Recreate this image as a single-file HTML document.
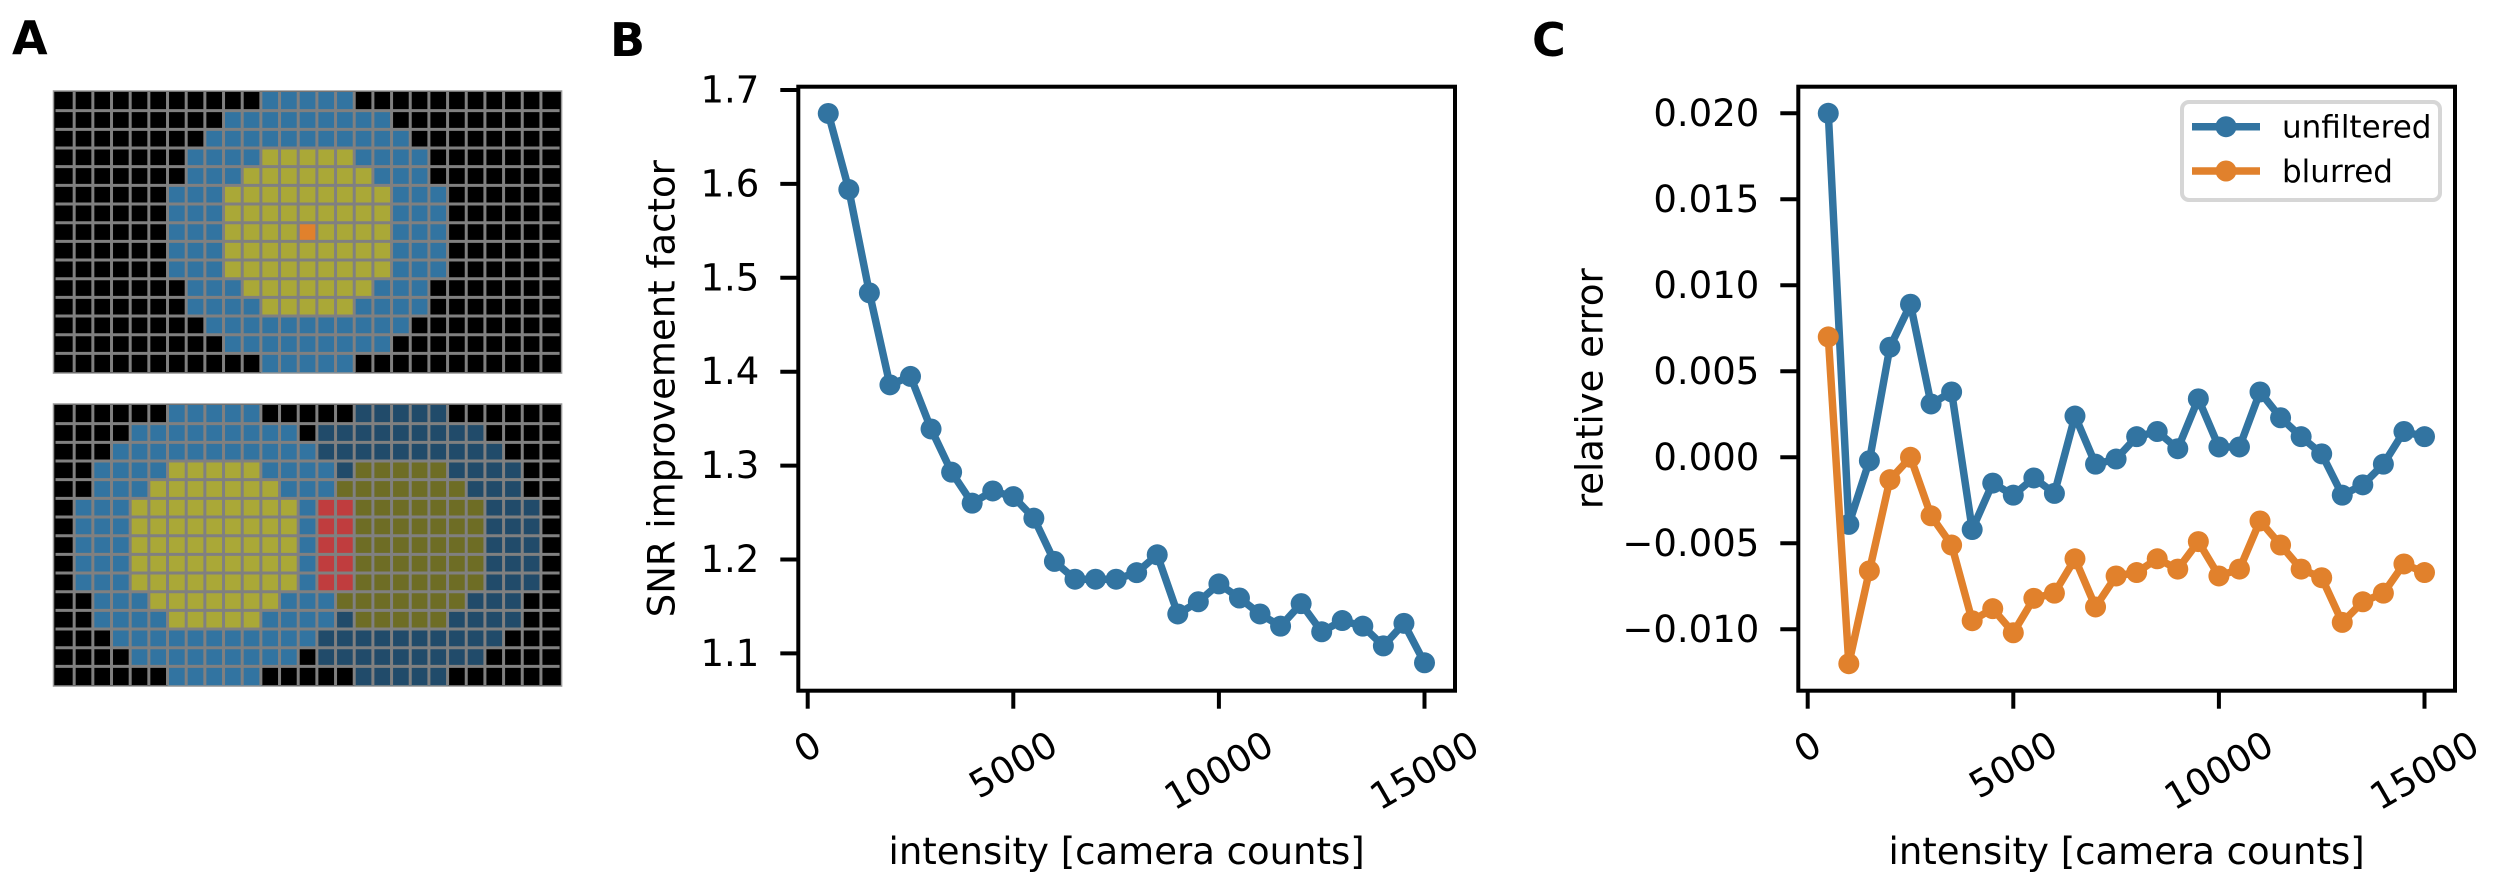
<!DOCTYPE html>
<html><head><meta charset="utf-8"><style>
html,body{margin:0;padding:0;background:#fff;}
svg{display:block;font-family:"DejaVu Sans","Liberation Sans",sans-serif;}
</style></head><body>
<svg id="fig" width="2500" height="888" viewBox="0 0 2500 888" xmlns="http://www.w3.org/2000/svg">
<rect x="0" y="0" width="2500" height="888" fill="#fff"/>
<text x="12" y="54" font-size="46" font-weight="bold">A</text>
<text x="610" y="56" font-size="46" font-weight="bold">B</text>
<text x="1532" y="56" font-size="46" font-weight="bold">C</text>
<g id="gridTop"></g>
<g id="gridBottom"></g>
<g id="chartB"></g>
<g id="chartC"></g>
</svg>
<script>
// ---- chart data ----
const intensities = [500,1000,1500,2000,2500,3000,3500,4000,4500,5000,5500,6000,6500,7000,7500,8000,8500,9000,9500,10000,10500,11000,11500,12000,12500,13000,13500,14000,14500,15000];
const snrValues = [1.675,1.594,1.484,1.386,1.395,1.339,1.293,1.260,1.273,1.267,1.244,1.198,1.179,1.179,1.179,1.186,1.205,1.142,1.155,1.174,1.159,1.142,1.129,1.153,1.123,1.135,1.129,1.108,1.132,1.090];
const unfilteredErr = [0.0200,-0.0039,-0.0002,0.0064,0.0089,0.0031,0.0038,-0.0042,-0.0015,-0.0022,-0.0012,-0.0021,0.0024,-0.0004,-0.0001,0.0012,0.0015,0.0005,0.0034,0.0006,0.0006,0.0038,0.0023,0.0012,0.0002,-0.0022,-0.0016,-0.0004,0.0015,0.0012];
const blurredErr = [0.0070,-0.0120,-0.0066,-0.0013,0.0000,-0.0034,-0.0051,-0.0095,-0.0088,-0.0102,-0.0082,-0.0079,-0.0059,-0.0087,-0.0069,-0.0067,-0.0059,-0.0065,-0.0049,-0.0069,-0.0065,-0.0037,-0.0051,-0.0065,-0.0070,-0.0096,-0.0084,-0.0079,-0.0062,-0.0067];
const xTicks = [0,5000,10000,15000];
const xTickLabels = ["0","5000","10000","15000"];
const snrTicks = [1.1,1.2,1.3,1.4,1.5,1.6,1.7];
const snrTickLabels = ["1.1","1.2","1.3","1.4","1.5","1.6","1.7"];
const errTicks = [-0.010,-0.005,0.000,0.005,0.010,0.015,0.020];
const errTickLabels = ["\u22120.010","\u22120.005","0.000","0.005","0.010","0.015","0.020"];
const legendLabels = ["unfiltered","blurred"];

const NS = "http://www.w3.org/2000/svg";
const BLUE = "#3274a1", ORANGE = "#e1812c";
function mk(tag, attrs, parent){
  const e = document.createElementNS(NS, tag);
  for (const k in attrs) e.setAttribute(k, attrs[k]);
  parent.appendChild(e);
  return e;
}

// ---- panel A grids ----
const P = 18.67;
function cellRect(g, x0, y0, c, r, fill){
  const e = mk('rect', {x: x0 + c*P, y: y0 + r*P, width: P+0.6, height: P+0.6, fill: fill}, g);
  
  
}
function gridLines(g, x0, y0){
  for (let c = 1; c < 27; c++) mk('line', {x1: x0+c*P, y1: y0, x2: x0+c*P, y2: y0+15*P, stroke: '#808080', 'stroke-width': 3}, g);
  for (let r = 1; r < 15; r++) mk('line', {x1: x0, y1: y0+r*P, x2: x0+27*P, y2: y0+r*P, stroke: '#808080', 'stroke-width': 3}, g);
  mk('rect', {x: x0-2, y: y0-1, width: 27*P+4, height: 15*P+2, fill: 'none', stroke: '#999', 'stroke-width': 1.5}, g);
}
(function(){
  const g = document.getElementById('gridTop');
  const x0 = 55.5, y0 = 92;
  mk('rect', {x: x0-2, y: y0-1, width: 27*P+4, height: 15*P+2, fill: '#000'}, g);
  for (let r = 0; r < 15; r++) for (let c = 0; c < 27; c++) {
    const d = (c-13)*(c-13) + (r-7)*(r-7);
    let f = null;
    if (d === 0) f = ORANGE; else if (d <= 22) f = '#aaa837'; else if (d <= 55) f = BLUE;
    if (f) cellRect(g, x0, y0, c, r, f);
  }
  gridLines(g, x0, y0);
})();
(function(){
  const g = document.getElementById('gridBottom');
  const x0 = 55.5, y0 = 405;
  mk('rect', {x: x0-2, y: y0-1, width: 27*P+4, height: 15*P+2, fill: '#000'}, g);
  for (let r = 0; r < 15; r++) for (let c = 0; c < 27; c++) {
    const dl = (c-8)*(c-8) + (r-7)*(r-7);
    const dr = (c-18)*(c-18) + (r-7)*(r-7);
    let f = null;
    if (dl <= 22) f = '#aaa837';
    else if (dl <= 55 && dr <= 22) f = '#c03d3e';
    else if (dl <= 55) f = BLUE;
    else if (dr <= 22) f = '#6e6d25';
    else if (dr <= 55) f = '#214b6a';
    if (f) cellRect(g, x0, y0, c, r, f);
  }
  gridLines(g, x0, y0);
})();

// ---- chart helpers ----
function drawAxes(g, box, xfn, yfn, yt, ytl, ylabel, ylabelX){
  const FS = 37;
  yt.forEach((v, i) => {
    const y = yfn(v);
    mk('line', {x1: box.l-18, y1: y, x2: box.l, y2: y, stroke: '#000', 'stroke-width': 4}, g);
    const t = mk('text', {x: box.l-39, y: y, 'font-size': FS, 'text-anchor': 'end', 'dominant-baseline': 'central'}, g);
    t.textContent = ytl[i];
    
    
  });
  xTicks.forEach((v, i) => {
    const x = xfn(v);
    mk('line', {x1: x, y1: box.b, x2: x, y2: box.b+18, stroke: '#000', 'stroke-width': 4}, g);
    const w = xTickLabels[i].length * 0.636 * FS;
    const cy = 730 + (w*0.5 + 0.87*26)/2;
    const t = mk('text', {x: x, y: cy, 'font-size': FS, 'text-anchor': 'middle', 'dominant-baseline': 'central', transform: 'rotate(-30 ' + x + ' ' + cy + ')'}, g);
    t.textContent = xTickLabels[i];
    
    
  });
  const xl = mk('text', {x: (box.l+box.r)/2, y: 864, 'font-size': FS, 'text-anchor': 'middle'}, g);
  xl.textContent = 'intensity [camera counts]';
  
  
  const cy = (box.t+box.b)/2;
  const yl = mk('text', {x: ylabelX, y: cy, 'font-size': FS, 'text-anchor': 'middle', 'dominant-baseline': 'central', transform: 'rotate(-90 ' + ylabelX + ' ' + cy + ')'}, g);
  yl.textContent = ylabel;
  
  
}
function drawSeries(g, xs, ys, xfn, yfn, color, name){
  const pts = xs.map((x, i) => xfn(x).toFixed(1) + ',' + yfn(ys[i]).toFixed(1)).join(' ');
  const pl = mk('polyline', {points: pts, fill: 'none', stroke: color, 'stroke-width': 7.5, 'stroke-linejoin': 'round'}, g);
  
  
  xs.forEach((x, i) => {
    const c = mk('circle', {cx: xfn(x), cy: yfn(ys[i]), r: 10.5, fill: color}, g);
    
    
  });
}
function frame(g, box){
  const f = mk('rect', {x: box.l, y: box.t, width: box.r-box.l, height: box.b-box.t, fill: 'none', stroke: '#000', 'stroke-width': 4}, g);
  
  
}

// ---- panel B ----
(function(){
  const g = document.getElementById('chartB');
  const box = {l: 798.3, r: 1455, t: 86.7, b: 690.7};
  const xfn = v => 807.7 + v*0.04112;
  const yfn = v => 90 + (1.7 - v)*939;
  drawAxes(g, box, xfn, yfn, snrTicks, snrTickLabels, 'SNR improvement factor', 662);
  drawSeries(g, intensities, snrValues, xfn, yfn, BLUE, 'snr');
  frame(g, box);
})();

// ---- panel C ----
(function(){
  const g = document.getElementById('chartC');
  const box = {l: 1798.3, r: 2455, t: 86.7, b: 690.7};
  const xfn = v => 1807.7 + v*0.04112;
  const yfn = v => 113.3 + (0.020 - v)*17200;
  drawAxes(g, box, xfn, yfn, errTicks, errTickLabels, 'relative error', 1590);
  drawSeries(g, intensities, unfilteredErr, xfn, yfn, BLUE, 'unfiltered');
  drawSeries(g, intensities, blurredErr, xfn, yfn, ORANGE, 'blurred');
  frame(g, box);
  const lg = mk('g', {}, g);
  
  
  mk('rect', {x: 2182, y: 102, width: 258, height: 98, rx: 7, fill: '#fff', 'fill-opacity': 0.85, stroke: '#d6d6d6', 'stroke-width': 4}, lg);
  const colors = [BLUE, ORANGE];
  const rows = [126.7, 171];
  legendLabels.forEach((lab, i) => {
    const e = mk('g', {}, lg);
    
    
    mk('line', {x1: 2192, y1: rows[i], x2: 2260, y2: rows[i], stroke: colors[i], 'stroke-width': 7.5}, e);
    mk('circle', {cx: 2226, cy: rows[i], r: 10.5, fill: colors[i]}, e);
    const t = mk('text', {x: 2282, y: rows[i]+11, 'font-size': 31}, e);
    t.textContent = lab;
  });
})();
</script>
</body></html>
